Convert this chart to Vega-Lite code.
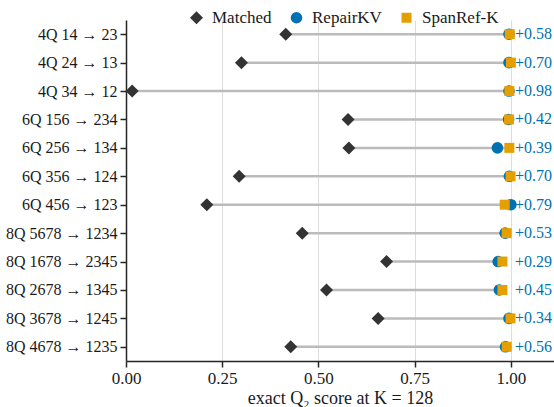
{
  "$schema": "https://vega.github.io/schema/vega-lite/v6.json",
  "width": 428,
  "height": 341,
  "autosize": {"type": "none"},
  "padding": {"left": 126, "top": 20, "right": 0, "bottom": 46},
  "background": "white",
  "config": {
    "font": "Liberation Serif",
    "view": {"stroke": null},
    "axis": {
      "labelFont": "Liberation Serif",
      "titleFont": "Liberation Serif",
      "domainColor": "#262626",
      "domainWidth": 1.5,
      "tickColor": "#262626",
      "tickWidth": 1.5,
      "tickSize": 6,
      "labelColor": "#1a1a1a",
      "titleColor": "#1a1a1a",
      "titleFontWeight": "normal"
    },
    "legend": {"labelFont": "Liberation Serif"},
    "text": {"font": "Liberation Serif"}
  },
  "data": {
    "values": [
      {"task": "4Q 14 → 23", "matched": 0.415, "repairkv": 0.995, "spanref": 0.997, "gain": 0.58},
      {"task": "4Q 24 → 13", "matched": 0.300, "repairkv": 0.995, "spanref": 1.000, "gain": 0.70},
      {"task": "4Q 34 → 12", "matched": 0.016, "repairkv": 0.995, "spanref": 0.996, "gain": 0.98},
      {"task": "6Q 156 → 234", "matched": 0.577, "repairkv": 0.994, "spanref": 0.995, "gain": 0.42},
      {"task": "6Q 256 → 134", "matched": 0.579, "repairkv": 0.965, "spanref": 0.996, "gain": 0.39},
      {"task": "6Q 356 → 124", "matched": 0.294, "repairkv": 0.996, "spanref": 0.999, "gain": 0.70},
      {"task": "6Q 456 → 123", "matched": 0.210, "repairkv": 1.000, "spanref": 0.984, "gain": 0.79},
      {"task": "8Q 5678 → 1234", "matched": 0.458, "repairkv": 0.985, "spanref": 0.989, "gain": 0.53},
      {"task": "8Q 1678 → 2345", "matched": 0.677, "repairkv": 0.967, "spanref": 0.978, "gain": 0.29},
      {"task": "8Q 2678 → 1345", "matched": 0.521, "repairkv": 0.970, "spanref": 0.978, "gain": 0.45},
      {"task": "8Q 3678 → 1245", "matched": 0.655, "repairkv": 0.995, "spanref": 0.999, "gain": 0.34},
      {"task": "8Q 4678 → 1235", "matched": 0.428, "repairkv": 0.986, "spanref": 0.989, "gain": 0.56}
    ]
  },
  "encoding": {
    "y": {
      "field": "task",
      "type": "nominal",
      "sort": null,
      "scale": {"type": "point", "padding": 0.5},
      "axis": {"title": null, "grid": false, "labelFontSize": 16, "labelPadding": 3}
    }
  },
  "layer": [
    {
      "mark": {"type": "rule", "color": "#bbbbbb", "strokeWidth": 2.5},
      "encoding": {
        "x": {
          "field": "matched",
          "type": "quantitative",
          "scale": {"domain": [0, 1.112], "nice": false, "zero": false},
          "axis": {
            "values": [0, 0.25, 0.5, 0.75, 1],
            "format": ".2f",
            "grid": true,
            "gridColor": "#dddddd",
            "gridWidth": 1,
            "labelFlush": false,
            "labelFontSize": 17,
            "labelPadding": 3,
            "title": "exact Q₂ score at K = 128",
            "titleFontSize": 18,
            "titlePadding": 3
          }
        },
        "x2": {"field": "spanref"}
      }
    },
    {
      "transform": [{"fold": ["matched", "repairkv", "spanref"], "as": ["method", "score"]}],
      "mark": {"type": "point", "filled": true, "opacity": 1, "strokeWidth": 0},
      "encoding": {
        "x": {"field": "score", "type": "quantitative"},
        "color": {
          "field": "method",
          "type": "nominal",
          "scale": {"domain": ["matched", "repairkv", "spanref"], "range": ["#333333", "#0072B2", "#E69F00"]},
          "legend": {
            "orient": "none",
            "legendX": 62,
            "legendY": -11,
            "direction": "horizontal",
            "title": null,
            "labelFont": "Liberation Serif",
            "labelFontSize": 17,
            "labelColor": "#1a1a1a",
            "labelOffset": 7,
            "columnPadding": 16,
            "symbolStrokeWidth": 0,
            "labelExpr": "datum.value === 'matched' ? 'Matched' : datum.value === 'repairkv' ? 'RepairKV' : 'SpanRef-K'"
          }
        },
        "shape": {
          "field": "method",
          "type": "nominal",
          "scale": {"domain": ["matched", "repairkv", "spanref"], "range": ["diamond", "circle", "square"]}
        },
        "size": {
          "field": "method",
          "type": "nominal",
          "scale": {"domain": ["matched", "repairkv", "spanref"], "range": [169, 100, 90]}
        }
      }
    },
    {
      "mark": {"type": "text", "align": "left", "baseline": "middle", "dx": 4, "color": "#0072B2", "fontSize": 16, "font": "Liberation Serif"},
      "encoding": {
        "x": {"datum": 1},
        "text": {"field": "gain", "type": "quantitative", "format": "+.2f"}
      }
    }
  ]
}
